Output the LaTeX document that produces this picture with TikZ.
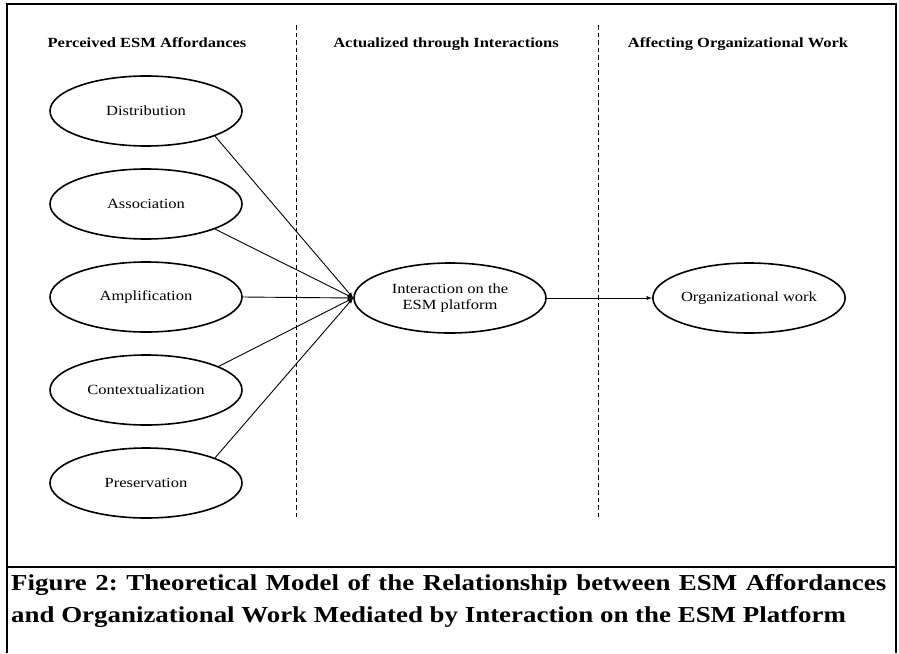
\documentclass[tikz,border=0pt]{standalone}
\usepackage{fontspec}
\setmainfont{Liberation Serif}[FakeStretch=1.18]
\usetikzlibrary{shapes.geometric}
\frenchspacing
\begin{document}
\begin{tikzpicture}[
    x=1pt, y=-1pt,
    node distance=93pt,
    affordance/.style={ellipse, draw, line width=1.6pt, minimum width=192pt, minimum height=70pt, inner sep=0pt, align=center, font=\fontsize{14}{16}\selectfont},
    heading/.style={anchor=base, inner sep=0pt, font=\fontsize{14}{16}\selectfont\bfseries},
    link/.style={->, >=latex, line width=0.9pt},
    divider/.style={dash pattern=on 4.5pt off 3pt, line width=1pt},
    frame/.style={line width=1.3pt},
    caption/.style={anchor=base west, inner sep=0pt, font=\fontsize{22.8}{27}\selectfont\bfseries}
  ]
    \useasboundingbox (0,0) rectangle (899,653);

    % Frame
    \draw[frame] (7,653) -- (7,4) -- (896,4) -- (896,653);
    \draw[frame] (7,567) -- (896,567);

    % Column headings
    \node[heading] (perceived) at (147,47) {Perceived ESM Affordances};
    \node[heading] (actualized) at (446,47) {Actualized through Interactions};
    \node[heading] (affecting) at (738,47) {Affecting Organizational Work};

    % Dividers
    \draw[divider] (296,25) -- (296,518);
    \draw[divider] (598,25) -- (598,518);

    % Affordances
    \node[affordance] (distribution) at (146,111) {Distribution};
    \node[affordance, below of=distribution] (association) {Association};
    \node[affordance, below of=association] (amplification) {Amplification};
    \node[affordance, below of=amplification] (contextualization) {Contextualization};
    \node[affordance, below of=contextualization] (preservation) {Preservation};

    % Interaction and outcome
    \node[affordance] (interaction) at (450,298) {Interaction on the\\ESM platform};
    \node[affordance, right of=interaction, node distance=299pt] (orgwork) {Organizational work};

    % Arrows
    \draw[link] (distribution.-20) -- (interaction.west);
    \draw[link] (association.-20) -- (interaction.west);
    \draw[link] (amplification.east) -- (interaction.west);
    \draw[link] (contextualization.18) -- (interaction.west);
    \draw[link] (preservation.20) -- (interaction.west);
    \draw[link] (interaction) -- (orgwork);

    % Caption
    \node[caption] (captionA) at (11,590) {\makebox[875pt][s]{Figure 2: Theoretical Model of the Relationship between ESM Affordances}};
    \node[caption] (captionB) at (11,622) {and Organizational Work Mediated by Interaction on the ESM Platform};
\end{tikzpicture}
\end{document}
